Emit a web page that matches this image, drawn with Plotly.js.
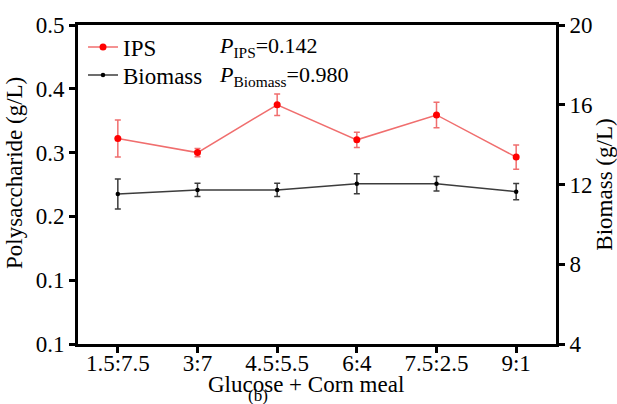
<!DOCTYPE html>
<html>
<head>
<meta charset="utf-8">
<script src="https://cdn.plot.ly/plotly-3.0.1.min.js"></script>
<style>html,body{margin:0;padding:0;background:#fff}#chart{width:617px;height:404px}</style>
</head>
<body>
<div id="chart"></div>
<script>
const categories = ['1.5:7.5', '3:7', '4.5:5.5', '6:4', '7.5:2.5', '9:1'];
const ipsValues = [0.322, 0.300, 0.375, 0.320, 0.359, 0.293];
const ipsErrors = [0.029, 0.0066, 0.017, 0.012, 0.020, 0.019];
const biomassValues = [11.52, 11.73, 11.73, 12.04, 12.04, 11.64];
const biomassErrors = [0.75, 0.33, 0.33, 0.50, 0.36, 0.41];
const leftTickVals = [0, 0.1, 0.2, 0.3, 0.4, 0.5];
const leftTickText = ['0.1', '0.1', '0.2', '0.3', '0.4', '0.5'];
const rightTickVals = [4, 8, 12, 16, 20];

const FONT = "'Liberation Serif', 'Times New Roman', Times, serif";
const FS = 23;
const xIdx = categories.map((c, i) => i);

const traces = [
  {
    x: xIdx, y: ipsValues, name: 'IPS', type: 'scatter', mode: 'lines+markers',
    line: {color: 'rgb(240,110,110)', width: 1.5},
    marker: {color: 'rgb(255,0,0)', size: 7, symbol: 'circle'},
    error_y: {type: 'data', array: ipsErrors, visible: true, color: 'rgb(240,110,110)', thickness: 1.5, width: 3},
    yaxis: 'y', legend: 'legend'
  },
  {
    x: xIdx, y: biomassValues, name: 'Biomass', type: 'scatter', mode: 'lines+markers',
    line: {color: 'rgb(60,60,60)', width: 1.5},
    marker: {color: 'rgb(0,0,0)', size: 4.5, symbol: 'circle'},
    error_y: {type: 'data', array: biomassErrors, visible: true, color: 'rgb(60,60,60)', thickness: 1.5, width: 3},
    yaxis: 'y2', legend: 'legend2'
  }
];

const legendCommon = {xanchor: 'left', yanchor: 'middle', bgcolor: 'rgba(0,0,0,0)',
  font: {family: FONT, size: 23, color: '#000'}, itemwidth: 30};

const layout = {
  width: 617, height: 404,
  margin: {l: 78, r: 61, t: 25, b: 60},
  paper_bgcolor: '#fff', plot_bgcolor: '#fff',
  font: {family: FONT, size: FS, color: '#000'},
  showlegend: true,
  legend: Object.assign({x: 0.0105, y: 0.931}, legendCommon),
  legend2: Object.assign({x: 0.0105, y: 0.843}, legendCommon),
  xaxis: {
    range: [-0.5, 5.5], tickvals: xIdx, ticktext: categories,
    showline: true, linecolor: '#000', linewidth: 3, mirror: true,
    ticks: 'outside', ticklen: 6, tickwidth: 3, tickcolor: '#000',
    ticklabelstandoff: -10,
    showgrid: false, zeroline: false,
    tickfont: {family: FONT, size: FS, color: '#000'}
  },
  yaxis: {
    range: [0, 0.5], tickvals: leftTickVals, ticktext: leftTickText,
    showline: true, linecolor: '#000', linewidth: 3,
    ticks: 'outside', ticklen: 6, tickwidth: 3, tickcolor: '#000',
    showgrid: false, zeroline: false,
    tickfont: {family: FONT, size: FS, color: '#000'}
  },
  yaxis2: {
    range: [4, 20], tickvals: rightTickVals, overlaying: 'y', side: 'right',
    showline: true, linecolor: '#000', linewidth: 3,
    ticks: 'outside', ticklen: 6, tickwidth: 3, tickcolor: '#000',
    showgrid: false, zeroline: false,
    tickfont: {family: FONT, size: FS, color: '#000'},
    title: {text: 'Biomass (g/L)', font: {family: FONT, size: FS, color: '#000'}, standoff: 6}
  },
  annotations: [
    {xref: 'paper', yref: 'paper', x: -0.134, y: 0.536, xanchor: 'center', yanchor: 'middle', showarrow: false,
     textangle: -90, text: 'Polysaccharide (g/L)', font: {family: FONT, size: FS, color: '#000'}},
    {xref: 'paper', yref: 'paper', x: 0.29, y: 0.93, xanchor: 'left', yanchor: 'middle', showarrow: false,
     text: '<i>P</i><sub>IPS</sub>=0.142', font: {family: FONT, size: 22, color: '#000'}},
    {xref: 'paper', yref: 'paper', x: 0.29, y: 0.84, xanchor: 'left', yanchor: 'middle', showarrow: false,
     text: '<i>P</i><sub>Biomass</sub>=0.980', font: {family: FONT, size: 22, color: '#000'}},
    {xref: 'paper', yref: 'paper', x: 0.478, y: -0.082, xanchor: 'center', yanchor: 'top', showarrow: false,
     text: 'Glucose + Corn meal', font: {family: FONT, size: FS, color: '#000'}},
    {xref: 'paper', yref: 'paper', x: 0.377, y: -0.125, xanchor: 'center', yanchor: 'top', showarrow: false,
     text: '(b)', font: {family: FONT, size: 17, color: '#000'}}
  ]
};

Plotly.newPlot('chart', traces, layout, {staticPlot: true, displayModeBar: false});
</script>
</body>
</html>
